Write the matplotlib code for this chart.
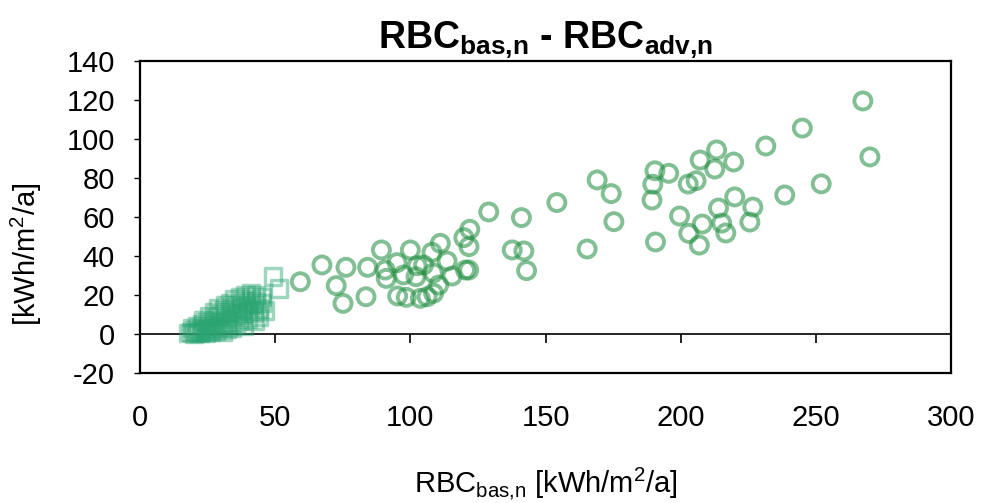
import matplotlib
matplotlib.use("Agg")
import matplotlib.pyplot as plt

plt.rcParams["font.family"] = ["Liberation Sans", "DejaVu Sans"]
plt.rcParams["mathtext.fontset"] = "custom"
plt.rcParams["mathtext.rm"] = "Liberation Sans"
plt.rcParams["mathtext.bf"] = "Liberation Sans:bold"
plt.rcParams["axes.unicode_minus"] = False

# circles: larger buildings
circle_x = [59.3, 67.3, 72.6, 75.1, 76.2, 84.2, 83.6, 89.3, 90.7, 91.1,
            95.1, 95.3, 97.5, 98.5, 100.0, 102.5, 102.1, 103.7, 104.9, 106.2,
            108.0, 108.5, 108.6, 110.5, 111.1, 113.6, 115.4, 119.8, 120.4, 121.6,
            121.7, 122.0, 129.0, 137.7, 141.1, 142.0, 143.0, 154.2, 165.4, 169.1,
            174.3, 175.3, 189.4, 189.7, 190.5, 190.7, 195.6, 199.6, 202.8, 203.0,
            205.7, 206.9, 207.2, 208.0, 212.6, 213.3, 214.0, 215.2, 216.7, 219.6,
            220.0, 225.6, 226.7, 231.5, 238.5, 245.0, 252.0, 267.4, 270.0]
circle_y = [26.8, 35.4, 24.8, 15.7, 34.2, 34.2, 19.1, 43.1, 32.8, 28.5,
            36.6, 19.5, 30.3, 18.8, 43.1, 35.0, 29.4, 18.3, 35.4, 19.1,
            41.9, 31.3, 20.9, 25.1, 46.5, 37.4, 29.7, 49.4, 32.8, 32.8,
            44.8, 53.7, 62.6, 43.1, 59.7, 42.6, 32.5, 67.4, 43.6, 79.0,
            72.0, 57.6, 68.7, 76.8, 83.7, 47.2, 82.4, 60.5, 76.9, 51.6,
            78.6, 45.6, 89.2, 56.4, 84.6, 94.4, 64.6, 56.9, 51.8, 88.2,
            70.3, 57.4, 65.1, 96.4, 71.3, 105.6, 77.0, 119.5, 90.8]

# squares: smaller buildings
square_x = [18.0, 19.0, 19.5, 20.0, 20.5, 21.0, 21.0, 22.0, 22.5, 23.0,
            23.0, 23.5, 24.0, 24.5, 25.0, 25.0, 25.5, 26.0, 26.0, 27.0,
            27.0, 27.5, 28.0, 28.0, 28.5, 29.0, 29.0, 30.0, 30.0, 30.5,
            31.0, 31.0, 31.5, 32.0, 32.0, 33.0, 33.0, 33.5, 34.0, 34.0,
            35.0, 35.0, 35.5, 36.0, 36.0, 37.0, 37.0, 37.5, 38.0, 38.0,
            38.5, 39.0, 39.0, 40.0, 40.0, 40.5, 41.0, 41.0, 42.0, 42.0,
            42.5, 43.0, 43.0, 44.0, 44.0, 45.0, 45.0, 46.0, 49.3, 51.5]
square_y = [0.5, 1.0, 3.0, 0.0, 2.0, 1.0, 4.0, 0.5, 2.5, 5.0,
            1.0, 7.0, 3.0, 0.5, 2.0, 6.0, 9.0, 4.0, 1.0, 3.0,
            7.0, 11.0, 5.0, 1.5, 9.0, 13.0, 3.0, 6.0, 10.0, 1.0,
            4.0, 12.0, 15.0, 8.0, 2.5, 6.0, 11.0, 16.0, 3.0, 13.0,
            9.0, 18.0, 5.0, 15.0, 11.0, 7.0, 19.0, 13.0, 17.0, 10.0,
            4.0, 20.0, 14.0, 8.0, 16.0, 12.0, 21.0, 18.0, 11.0, 15.0,
            7.0, 20.0, 17.0, 13.0, 9.0, 16.0, 19.0, 12.0, 29.5, 23.3]

x_ticks = [0, 50, 100, 150, 200, 250, 300]
y_ticks = [-20, 0, 20, 40, 60, 80, 100, 120, 140]

fig = plt.figure(figsize=(9.83, 5.03), dpi=100)
ax = fig.add_axes([140 / 983, 1 - 373 / 503, 811 / 983, 312 / 503])

ax.scatter(square_x, square_y, s=140, marker="s", facecolors="none",
           edgecolors="#2aa572", linewidths=2.5, alpha=0.45, zorder=3)
ax.scatter(circle_x, circle_y, s=150, marker="o", facecolors="none",
           edgecolors="#1d8c3c", linewidths=2.8, alpha=0.55, zorder=4)

ax.set_xlim(0, 300)
ax.set_ylim(-20, 140)
ax.set_xticks(x_ticks)
ax.set_yticks(y_ticks)
ax.tick_params(axis="x", length=0, pad=22, labelsize=21)
ax.tick_params(axis="y", length=4, width=1, direction="out", labelsize=21, pad=14)

# horizontal axis line at zero with its own small ticks
ax.axhline(0, color="black", lw=1.2, zorder=2)
ax.vlines(x_ticks[1:-1], 0, -4.6, color="black", lw=1.2, zorder=2)

for sp in ax.spines.values():
    sp.set_linewidth(1.6)

ax.set_title(r"$\mathbf{RBC_{bas{,}n}}$ - $\mathbf{RBC_{adv{,}n}}$",
             fontsize=27, fontweight="bold", pad=9)
ax.set_xlabel(r"RBC$_{\mathrm{bas{,}n}}$ [kWh/m$^2$/a]", fontsize=21, labelpad=25)
ax.set_ylabel(r"[kWh/m$^2$/a]", fontsize=21)
ax.yaxis.set_label_coords(-0.118, 0.38)

fig.savefig("out.png", dpi=100)
